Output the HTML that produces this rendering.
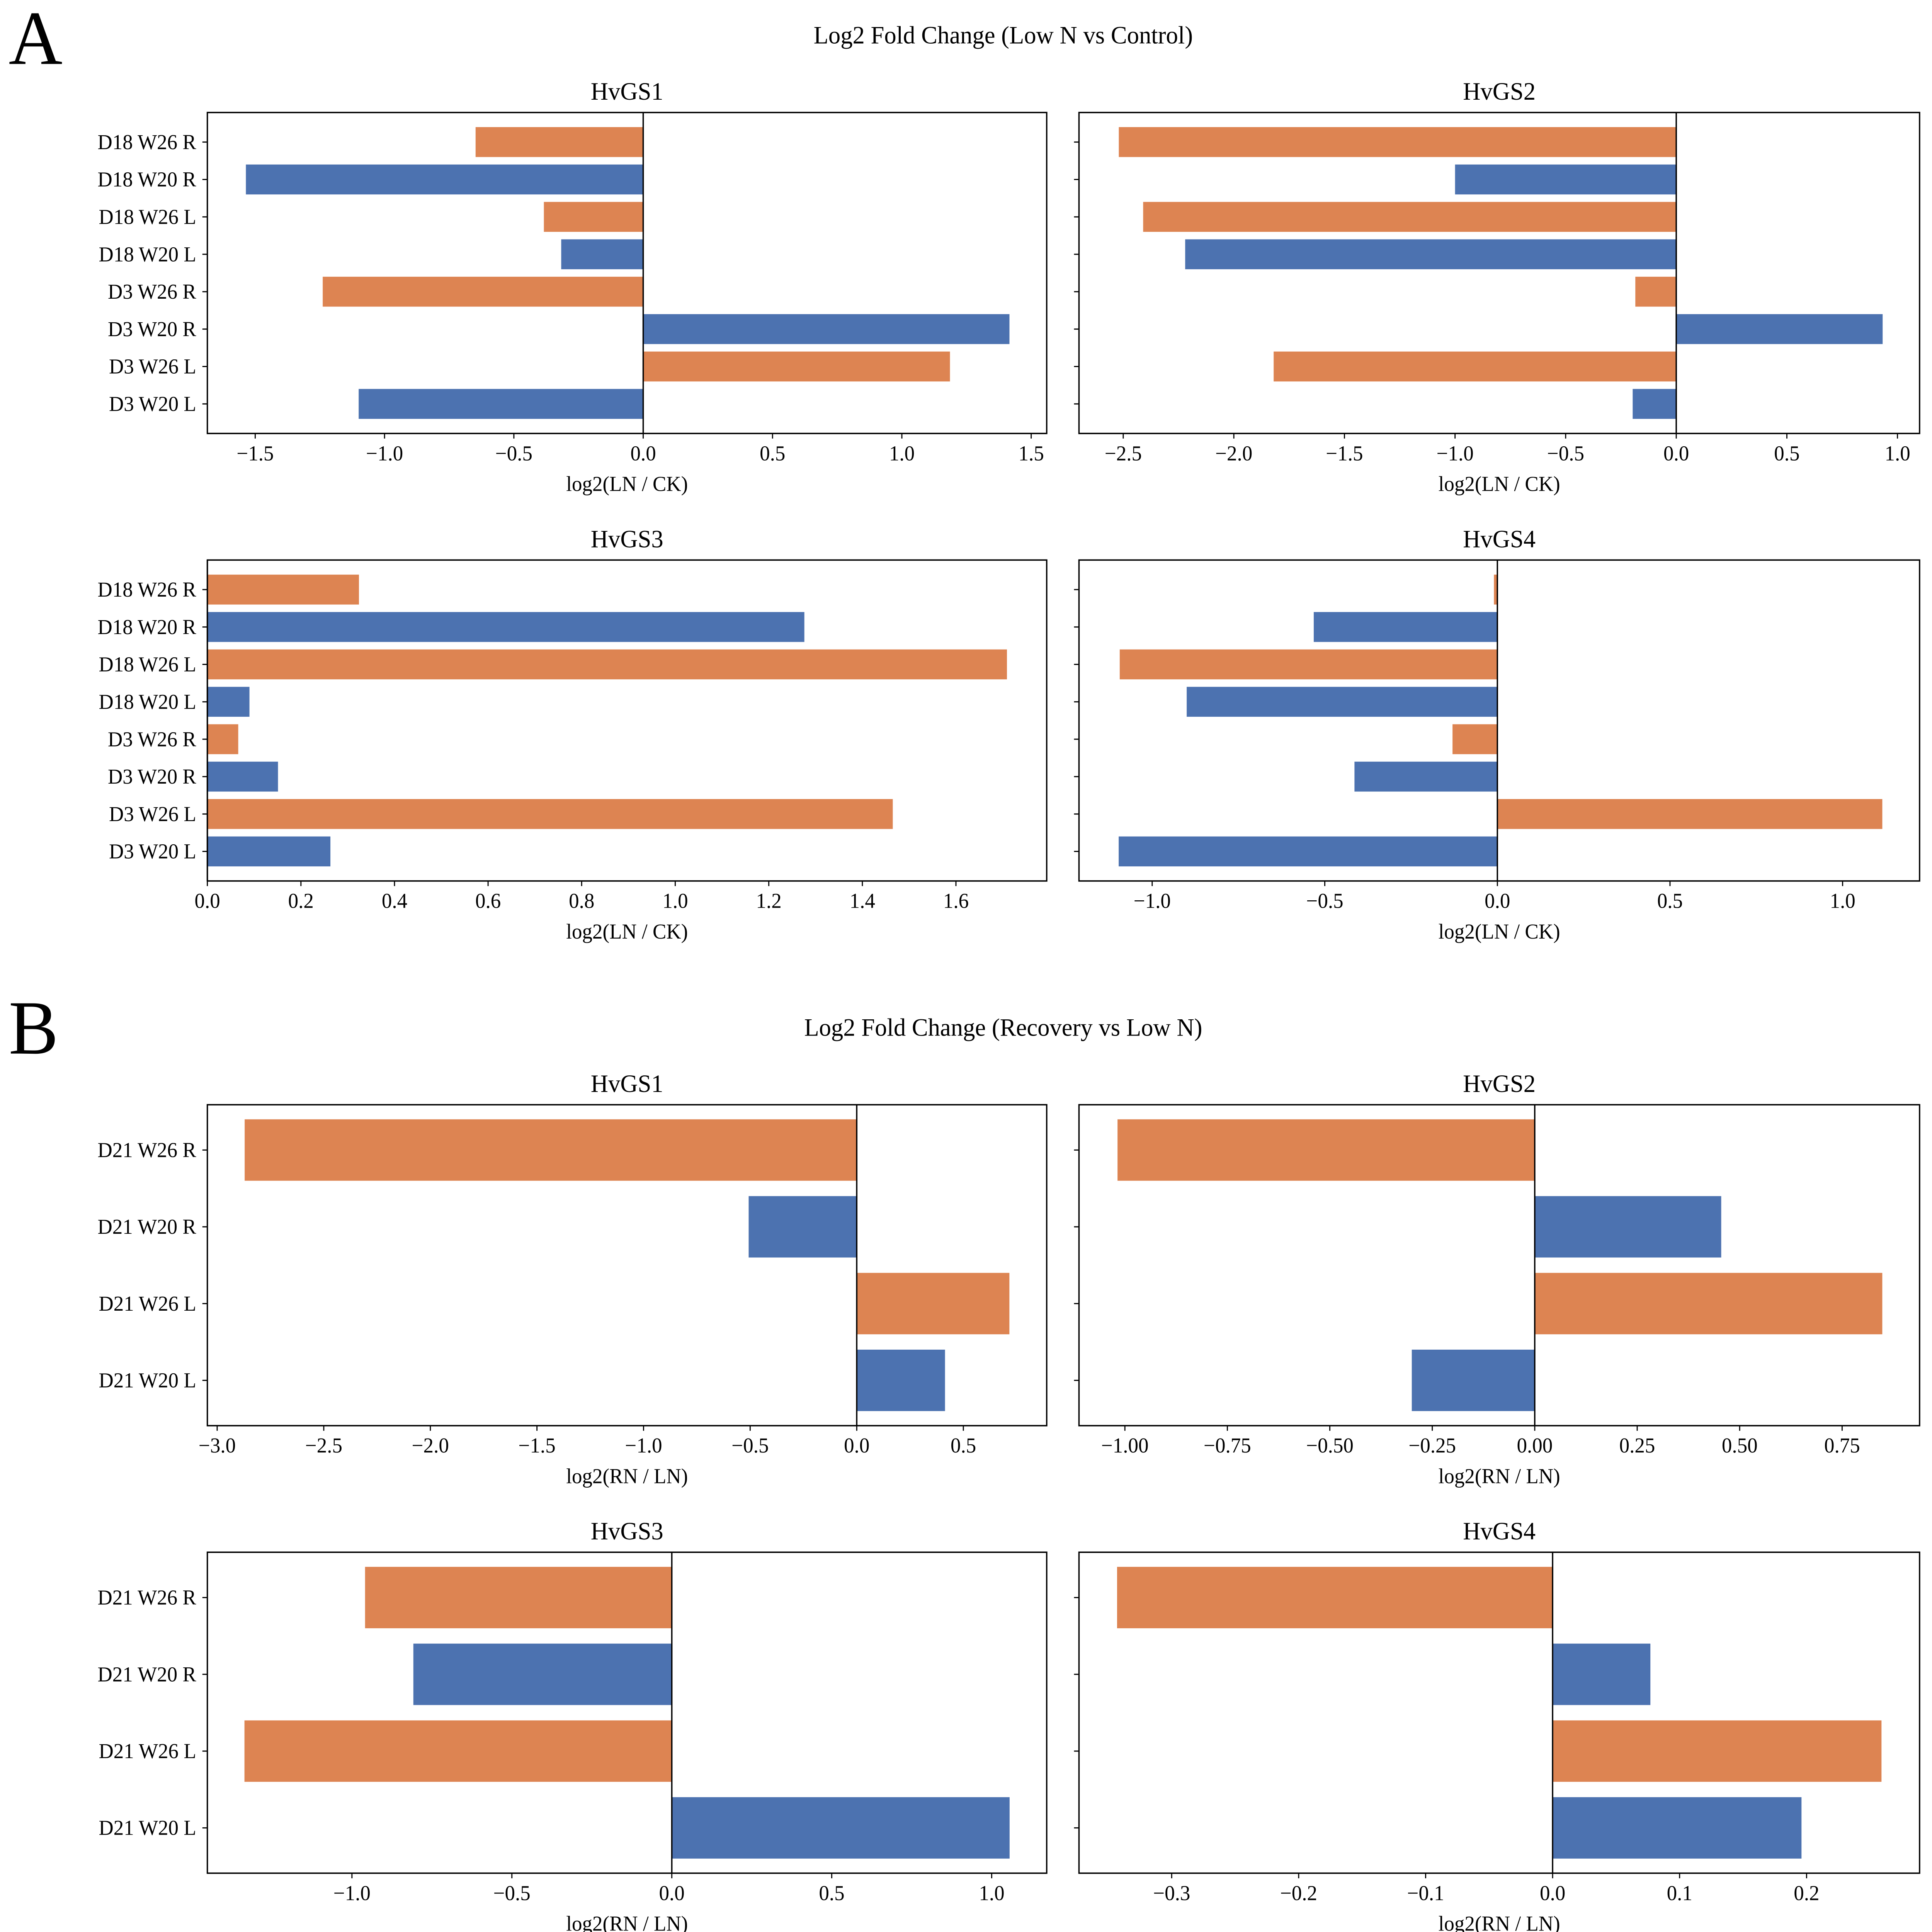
<!DOCTYPE html>
<html><head><meta charset="utf-8"><style>
html,body{margin:0;padding:0;background:#fff;overflow:hidden;width:100%;height:100%}
svg{display:block;position:fixed;left:0;top:0;width:100vw;height:100vh}
text{font-family:"Liberation Serif",serif;fill:#000}
</style></head><body>
<svg id="fig" xmlns="http://www.w3.org/2000/svg" viewBox="0 0 1556 1511" preserveAspectRatio="none">
<rect x="0" y="0" width="1556" height="1511" fill="#fff"/>
<text x="7" y="50" font-size="60">A</text>
<text x="7" y="824" font-size="60">B</text>
<text x="808" y="34" font-size="19.5" text-anchor="middle">Log2 Fold Change (Low N vs Control)</text>
<text x="808" y="810" font-size="19.5" text-anchor="middle">Log2 Fold Change (Recovery vs Low N)</text>
</svg>
<script>
const catsA = ["D3 W20 L","D3 W26 L","D3 W20 R","D3 W26 R","D18 W20 L","D18 W26 L","D18 W20 R","D18 W26 R"];
const catsB = ["D21 W20 L","D21 W26 L","D21 W20 R","D21 W26 R"];
const a1Values = [-1.10, 1.186, 1.416, -1.239, -0.317, -0.384, -1.536, -0.648];
const a2Values = [-0.197, -1.82, 0.933, -0.185, -2.22, -2.41, -1.0, -2.52];
const a3Values = [0.263, 1.465, 0.151, 0.066, 0.090, 1.709, 1.276, 0.324];
const a4Values = [-1.097, 1.115, -0.414, -0.13, -0.90, -1.094, -0.532, -0.01];
const b1Values = [0.414, 0.716, -0.507, -2.871];
const b2Values = [-0.30, 0.848, 0.455, -1.018];
const b3Values = [1.056, -1.336, -0.808, -0.959];
const b4Values = [0.196, 0.259, 0.077, -0.343];
const a1Ticks = [-1.5,-1.0,-0.5,0.0,0.5,1.0,1.5];
const a2Ticks = [-2.5,-2.0,-1.5,-1.0,-0.5,0.0,0.5,1.0];
const a3Ticks = [0.0,0.2,0.4,0.6,0.8,1.0,1.2,1.4,1.6];
const a4Ticks = [-1.0,-0.5,0.0,0.5,1.0];
const b1Ticks = [-3.0,-2.5,-2.0,-1.5,-1.0,-0.5,0.0,0.5];
const b2Ticks = [-1.00,-0.75,-0.50,-0.25,0.00,0.25,0.50,0.75];
const b3Ticks = [-1.0,-0.5,0.0,0.5,1.0];
const b4Ticks = [-0.3,-0.2,-0.1,0.0,0.1,0.2];
const a1Domain = [-1.685, 1.56];
const a2Domain = [-2.70, 1.10];
const a3Domain = [0, 1.794];
const a4Domain = [-1.212, 1.223];
const b1Domain = [-3.046, 0.891];
const b2Domain = [-1.112, 0.939];
const b3Domain = [-1.452, 1.172];
const b4Domain = [-0.373, 0.289];

const NS = "http://www.w3.org/2000/svg";
const svg = document.getElementById("fig");
function mk(tag, attrs, parent){const e=document.createElementNS(NS,tag);for(const k in attrs)e.setAttribute(k,attrs[k]);(parent||svg).appendChild(e);return e;}
function fmt(v,d){let s=v.toFixed(d);if(v<0)s="\u2212"+s.slice(1);return s;}

function panel(id,x0,x1,y0,y1,cats,vals,ticks,dom,dec,title,xlabel,showY){
  const g=mk("g",{});
  
  
  const n=cats.length;
  const lo=-0.4-0.05*(n-0.2), hi=(n-1)+0.4+0.05*(n-0.2);
  const xs=v=>x0+(v-dom[0])/(dom[1]-dom[0])*(x1-x0);
  const ys=c=>y1-(c-lo)/(hi-lo)*(y1-y0);
  for(let i=0;i<n;i++){
    const v=vals[i];
    const a=xs(Math.min(0,v)), b=xs(Math.max(0,v));
    const r=mk("rect",{x:a,y:ys(i+0.4),width:b-a,height:ys(i-0.4)-ys(i+0.4),fill:cats[i].includes("W20")?"#4c72b0":"#dd8452"},g);
    
    
    const t=mk("line",{x1:x0-4,x2:x0,y1:ys(i),y2:ys(i),stroke:"#000","stroke-width":0.9},g);
    
    
    if(showY){
      const l=mk("text",{x:x0-9,y:ys(i)+5.5,"font-size":16.5,"text-anchor":"end"},g);
      l.textContent=cats[i];
      
      
    }
  }
  const z=mk("line",{x1:xs(0),x2:xs(0),y1:y0,y2:y1,stroke:"#000","stroke-width":1.1},g);
  
  
  for(const tv of ticks){
    const tx=xs(tv);
    const t=mk("line",{x1:tx,x2:tx,y1:y1,y2:y1+4,stroke:"#000","stroke-width":0.9},g);
    
    
    const l=mk("text",{x:tx,y:y1+21,"font-size":16.5,"text-anchor":"middle"},g);
    l.textContent=fmt(tv,dec);
    
    
  }
  const fr=mk("rect",{x:x0,y:y0,width:x1-x0,height:y1-y0,fill:"none",stroke:"#000","stroke-width":1.1},g);
  
  
  const tt=mk("text",{x:(x0+x1)/2,y:y0-10,"font-size":19.5,"text-anchor":"middle"},g);
  tt.textContent=title;
  
  
  const xl=mk("text",{x:(x0+x1)/2,y:y1+45,"font-size":16.5,"text-anchor":"middle"},g);
  xl.textContent=xlabel;
  
  
}
const L=[167,843], R=[869,1546];
panel("a-hvgs1",L[0],L[1],88,339,catsA,a1Values,a1Ticks,a1Domain,1,"HvGS1","log2(LN / CK)",true);
panel("a-hvgs2",R[0],R[1],88,339,catsA,a2Values,a2Ticks,a2Domain,1,"HvGS2","log2(LN / CK)",false);
panel("a-hvgs3",L[0],L[1],438,689,catsA,a3Values,a3Ticks,a3Domain,1,"HvGS3","log2(LN / CK)",true);
panel("a-hvgs4",R[0],R[1],438,689,catsA,a4Values,a4Ticks,a4Domain,1,"HvGS4","log2(LN / CK)",false);
panel("b-hvgs1",L[0],L[1],864,1115,catsB,b1Values,b1Ticks,b1Domain,1,"HvGS1","log2(RN / LN)",true);
panel("b-hvgs2",R[0],R[1],864,1115,catsB,b2Values,b2Ticks,b2Domain,2,"HvGS2","log2(RN / LN)",false);
panel("b-hvgs3",L[0],L[1],1214,1465,catsB,b3Values,b3Ticks,b3Domain,1,"HvGS3","log2(RN / LN)",true);
panel("b-hvgs4",R[0],R[1],1214,1465,catsB,b4Values,b4Ticks,b4Domain,1,"HvGS4","log2(RN / LN)",false);
</script>
</body></html>
